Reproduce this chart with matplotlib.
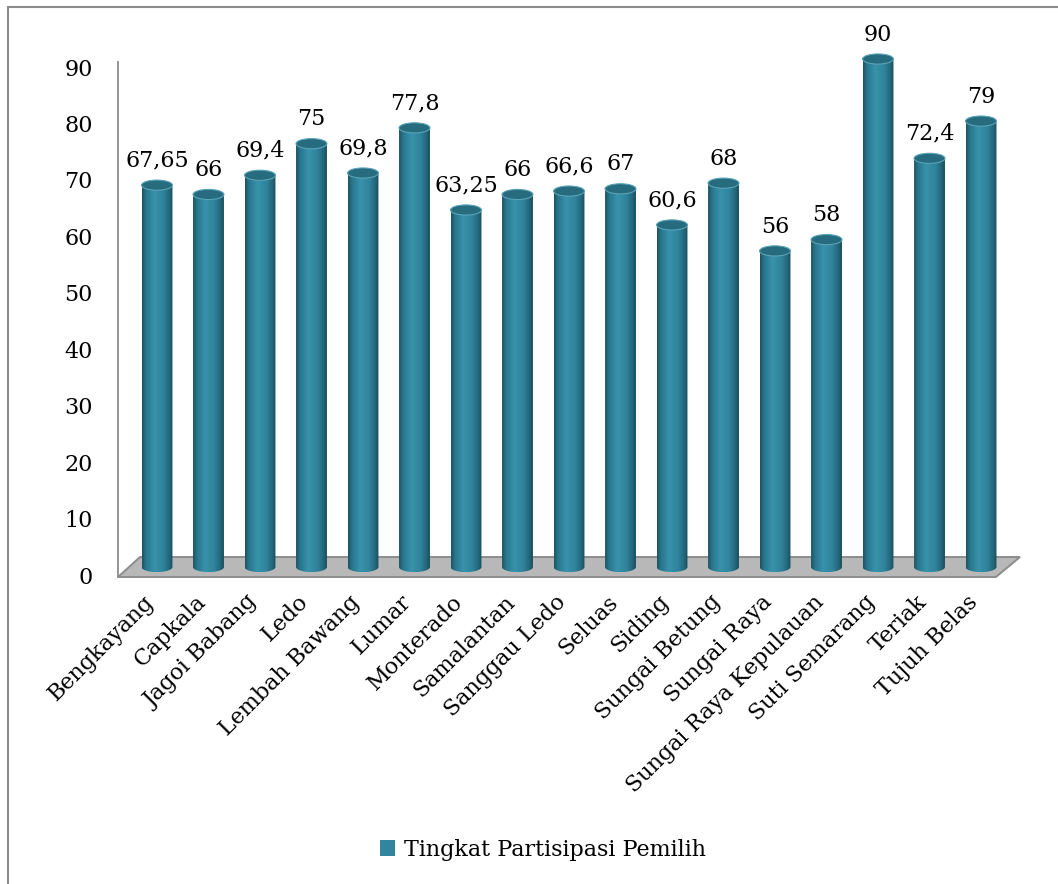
import matplotlib
matplotlib.use('Agg')
import matplotlib.pyplot as plt
import numpy as np
from matplotlib.patches import Ellipse, Polygon, Patch, Rectangle
from matplotlib.path import Path
from matplotlib.colors import LinearSegmentedColormap
import matplotlib.transforms as mtransforms

kecamatan = ['Bengkayang', 'Capkala', 'Jagoi Babang', 'Ledo', 'Lembah Bawang',
             'Lumar', 'Monterado', 'Samalantan', 'Sanggau Ledo', 'Seluas',
             'Siding', 'Sungai Betung', 'Sungai Raya', 'Sungai Raya Kepulauan',
             'Suti Semarang', 'Teriak', 'Tujuh Belas']
partisipasi = [67.65, 66, 69.4, 75, 69.8, 77.8, 63.25, 66, 66.6, 67,
               60.6, 68, 56, 58, 90, 72.4, 79]
label_text = ['67,65', '66', '69,4', '75', '69,8', '77,8', '63,25', '66', '66,6', '67',
              '60,6', '68', '56', '58', '90', '72,4', '79']
yticks = list(range(0, 100, 10))
series_name = 'Tingkat Partisipasi Pemilih'

plt.rcParams['font.family'] = ['DejaVu Serif']
FS = 16

W, H = 1058, 884
fig = plt.figure(figsize=(W / 100, H / 100), dpi=100)

# outer chart frame (only left and top edges fall inside the image)
fig.patches.append(Rectangle((8 / W, -0.1), 1.2, 1.1 - 7 / H, transform=fig.transFigure,
                             fill=False, edgecolor='#8c8c8c', lw=1.5))

ax = fig.add_axes([118 / W, (H - 577) / H, 902 / W, (577 - 59) / H])
ax.set_xlim(-0.757, 16.757)
ax.set_ylim(-1.77, 90)
for s in ['top', 'right', 'bottom']:
    ax.spines[s].set_visible(False)
ax.spines['left'].set_color('#8c8c8c')
ax.spines['left'].set_linewidth(1.3)
ax.spines['left'].set_bounds(-1.77, 89.5)

# floor of the 3-D plot area
floor = Polygon([[-0.757, -1.77], [-0.33, 1.77], [16.757, 1.77], [16.29, -1.77]],
                closed=True, facecolor='#b8b8b8', edgecolor='#8c8c8c', lw=1.4, clip_on=False, zorder=1)
ax.add_patch(floor)

bar_w = 0.6
ell_h = 1.8
cyl = LinearSegmentedColormap.from_list('cyl', [
    (0.0, '#1c5363'), (0.12, '#28768c'), (0.4, '#3892ab'),
    (0.7, '#2f839b'), (0.9, '#236579'), (1.0, '#1a4d5c')])
grad = np.linspace(0, 1, 64).reshape(1, -1)

theta = np.linspace(np.pi, 2 * np.pi, 40)
for i, v in enumerate(partisipasi):
    left, right = i - bar_w / 2, i + bar_w / 2
    # body with rounded bottom
    xs = np.concatenate([[left], i + bar_w / 2 * np.cos(theta), [right]])
    ys = np.concatenate([[v], ell_h / 2 * np.sin(theta), [v]])
    body = Path(np.column_stack([xs, ys]))
    img = ax.imshow(grad, cmap=cyl, aspect='auto', extent=[left, right, -ell_h / 2, v],
                    zorder=3, interpolation='bilinear')
    img.set_clip_path(body, transform=ax.transData)
    img.set_clip_box(None)
    # top cap
    ax.add_patch(Ellipse((i, v), bar_w, ell_h, facecolor='#266c7e',
                         edgecolor='#5aa3b8', lw=0.8, zorder=4, clip_on=False))
    ax.annotate(label_text[i], (i, v + ell_h / 2), xytext=(0, 6), textcoords='offset points',
                ha='center', va='bottom', fontsize=FS, color='black', zorder=5,
                annotation_clip=False)

ax.set_xticks(range(len(kecamatan)))
ax.set_xticklabels(kecamatan, rotation=45, ha='right', va='top', rotation_mode='anchor', fontsize=FS)
ax.tick_params(axis='x', length=0, pad=10)
xshift = mtransforms.ScaledTranslation(-14 / 100, 0, fig.dpi_scale_trans)
for lab in ax.get_xticklabels():
    lab.set_transform(lab.get_transform() + xshift)

ax.set_yticks(yticks)
ax.set_yticklabels([str(t) for t in yticks], fontsize=FS)
ax.tick_params(axis='y', length=0, pad=18)
yshift = mtransforms.ScaledTranslation(0, -8 / 100, fig.dpi_scale_trans)
for lab in ax.get_yticklabels():
    lab.set_transform(lab.get_transform() + yshift)

fig.legend(handles=[Patch(facecolor='#31859c', edgecolor='none', label=series_name)],
           loc='center', bbox_to_anchor=(543 / W, 1 - 850 / H), frameon=False,
           fontsize=FS, handlelength=0.7, handleheight=0.7, handletextpad=0.4)

fig.savefig('out.png', dpi=100)
